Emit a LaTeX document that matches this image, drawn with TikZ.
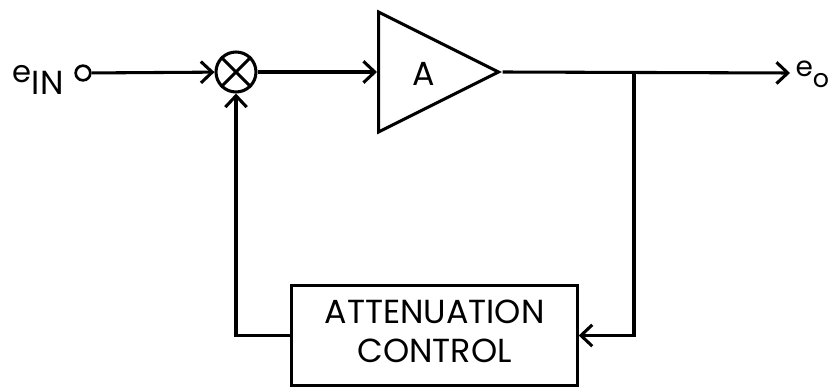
\documentclass[tikz,border=0pt]{standalone}
\usepackage{fontspec}
\setmainfont{Poppins}
\usepackage{tikz}
\usetikzlibrary{calc,shapes.geometric,arrows.meta,positioning}

\begin{document}
\begin{tikzpicture}[x=0.75pt,y=-0.75pt,line width=2.3pt,
        sig/.style={-{Straight Barb[length=8.5pt,width=16pt,line width=2.3pt]}},
        txt/.style={font=\fontsize{25}{29}\selectfont}]
        \useasboundingbox (0,0) rectangle (830,388);

        % вхідна клема, суматор, підсилювач
        \node[draw,circle,minimum size=11pt,inner sep=0pt,line width=2pt] (in) at (83,73) {};
        \node[draw,circle,minimum size=30pt,inner sep=0pt] (sum) at (236,72) {};
        \node[draw,isosceles triangle,isosceles triangle stretches,inner sep=0pt,
              minimum width=90pt,minimum height=90pt,anchor=lower side] (amp) at (377,72) {};
        \node[txt] (gain) at (424,74) {A};

        % блок керування
        \node[draw,txt,minimum width=214pt,minimum height=75pt] (ctrl) at (434.5,335.5)
              {\raisebox{-5pt}{\begin{tabular}{@{}c@{}}ATTENUATION\\CONTROL\end{tabular}}};

        \coordinate (out) at (790,73);
        \coordinate (tap) at (634,73);

        % хрест у суматорі
        \draw (sum.north west) -- (sum.south east);
        \draw (sum.south west) -- (sum.north east);

        \draw[sig] (in) -- (sum);
        \draw[sig] (sum) -- (amp.lower side);
        \draw[sig] (amp.apex) -- (out);
        \draw[sig] (tap) |- (ctrl.east);
        \draw[sig] (ctrl.west) -| (sum.south);

        \node[inner sep=0pt,anchor=base east] (einlbl) at (65,83)
              {\fontsize{23}{26}\selectfont e\raisebox{-9pt}{\fontsize{25}{29}\selectfont IN}};
        \node[inner sep=0pt,anchor=base west] (eolbl) at (794,77)
              {\fontsize{21}{24}\selectfont e\raisebox{-8pt}{\fontsize{19}{22}\selectfont o}};

    \end{tikzpicture}
\end{document}
